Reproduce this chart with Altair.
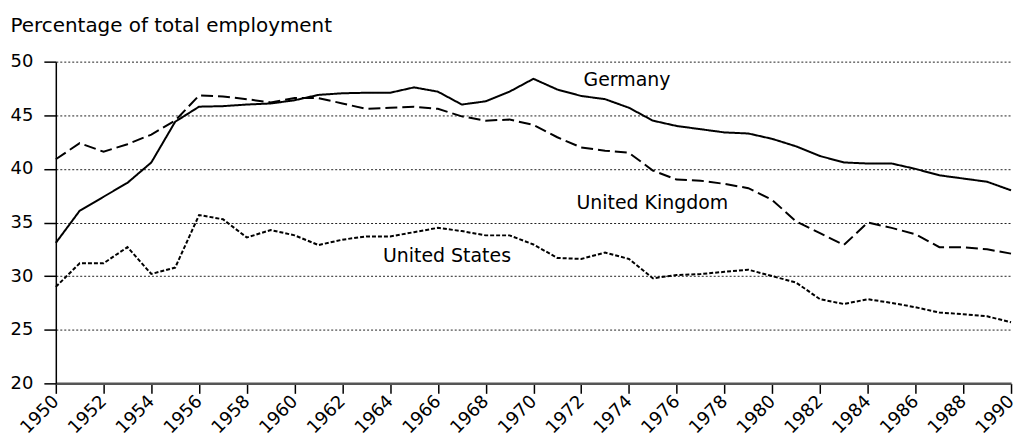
import altair as alt
import pandas as pd

years = list(range(1950, 1991))
germany = [33.1, 36.1, 37.4, 38.7, 40.6, 44.4, 45.8, 45.85, 46.0, 46.1,
           46.4, 46.9, 47.05, 47.1, 47.1, 47.6, 47.2, 46.0, 46.3, 47.2,
           48.4, 47.4, 46.8, 46.5, 45.7, 44.5, 44.0, 43.7, 43.4, 43.3,
           42.8, 42.1, 41.2, 40.6, 40.5, 40.5, 40.0, 39.4, 39.1, 38.8, 38.0]
uk = [40.9, 42.4, 41.6, 42.3, 43.2, 44.5, 46.85, 46.75, 46.5, 46.2,
      46.6, 46.6, 46.1, 45.6, 45.7, 45.8, 45.6, 44.9, 44.5, 44.6,
      44.1, 42.95, 42.0, 41.7, 41.5, 39.85, 39.0, 38.9, 38.6, 38.2,
      37.1, 35.1, 34.0, 32.9, 35.0, 34.5, 33.9, 32.7, 32.7, 32.5, 32.1]
us = [29.0, 31.2, 31.2, 32.7, 30.2, 30.8, 35.7, 35.3, 33.6, 34.3,
      33.8, 32.9, 33.4, 33.7, 33.7, 34.1, 34.5, 34.2, 33.8, 33.8,
      32.95, 31.7, 31.6, 32.2, 31.6, 29.8, 30.1, 30.2, 30.4, 30.6,
      30.0, 29.4, 27.85, 27.4, 27.85, 27.5, 27.1, 26.6, 26.45, 26.25, 25.7]
series_names = ["Germany", "United Kingdom", "United States"]
label_years = [1972.1, 1971.8, 1963.7]
label_values = [48.3, 36.85, 31.9]
x_ticks = list(range(1950, 1991, 2))
y_ticks = [20, 25, 30, 35, 40, 45, 50]

rows = []
for name, vals in zip(series_names, [germany, uk, us]):
    for yr, v in zip(years, vals):
        rows.append({"year": yr, "value": v, "country": name})
df = pd.DataFrame(rows)
labels = pd.DataFrame({"country": series_names, "year": label_years, "value": label_values})

FONT = "DejaVu Sans"

x_scale = alt.Scale(domain=[1950, 1990], nice=False, zero=False)
y_scale = alt.Scale(domain=[20, 50], nice=False, zero=False)

lines = alt.Chart(df).mark_line(strokeWidth=2, color="black").encode(
    x=alt.X("year:Q", scale=x_scale,
            axis=alt.Axis(values=x_ticks, format="d", labelAngle=-45, title=None,
                          grid=False, domainColor="#555555", domainWidth=2.5,
                          tickColor="black", tickSize=10, tickWidth=1.5,
                          labelFontSize=18, labelFont=FONT, labelColor="black",
                          labelAlign="right", labelBaseline="middle", labelPadding=5)),
    y=alt.Y("value:Q", scale=y_scale,
            axis=alt.Axis(values=y_ticks, title="Percentage of total employment",
                          titleAngle=0, titleAlign="left", titleBaseline="alphabetic",
                          titleX=-46, titleY=-30, titleFontSize=20, titleFont=FONT,
                          titleFontWeight="normal", titleColor="black",
                          grid=True, gridDash=[2, 2], gridColor="#222222", gridWidth=1,
                          domainColor="black", domainWidth=1.5,
                          tickColor="black", tickSize=12, tickWidth=1.5,
                          labelFontSize=18, labelFont=FONT, labelColor="black",
                          labelPadding=11)),
    strokeDash=alt.StrokeDash("country:N",
                              scale=alt.Scale(domain=series_names,
                                              range=[[1, 0], [12, 5], [4, 2]]),
                              legend=None),
    detail="country:N",
)

text = alt.Chart(labels).mark_text(align="left", baseline="middle", fontSize=19,
                                   font=FONT, color="black").encode(
    x=alt.X("year:Q", scale=x_scale),
    y=alt.Y("value:Q", scale=y_scale),
    text="country:N",
)

chart = (lines + text).properties(
    width=959, height=323,
    autosize=alt.AutoSizeParams(type="none"),
    padding={"left": 48, "top": 53, "right": 8, "bottom": 56},
).configure_view(stroke=None)

chart.save("out.html", embed_options={"renderer": "svg", "actions": False})
